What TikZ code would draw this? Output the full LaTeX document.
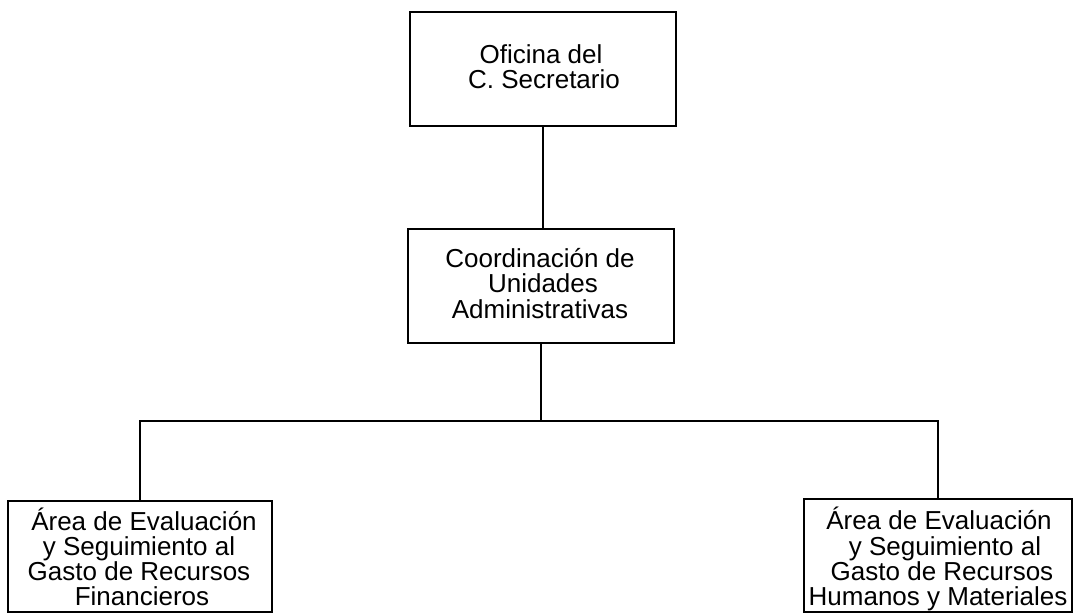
\documentclass[tikz,border=0pt]{standalone}
\usepackage{fontspec}
\setmainfont{Liberation Sans}
\begin{document}
\begin{tikzpicture}[x=1pt,y=-1pt,
  box/.style={draw=black,line width=1.6pt,inner sep=0pt,fill=none},
  txt/.style={anchor=base,inner sep=0pt,font=\fontsize{26}{26}\selectfont},
  wire/.style={draw=black,line width=1.6pt}]
\useasboundingbox (0,0) rectangle (1075,614);
% boxes
\node[box,minimum width=266pt,minimum height=114pt] (top) at (543,69) {};
\node[box,minimum width=266pt,minimum height=114pt] (mid) at (541,286) {};
\node[box,minimum width=264pt,minimum height=111pt] (left) at (140,556.5) {};
\node[box,minimum width=268pt,minimum height=113pt] (right) at (938,555.5) {};
% texts
\node[txt] (t1) at (541,63) {Oficina del};
\node[txt] (t2) at (544,88) {C. Secretario};
\node[txt] (m1) at (540,267) {Coordinación de};
\node[txt] (m2) at (543,292) {Unidades};
\node[txt] (m3) at (540,318) {Administrativas};
\node[txt] (l1) at (144,530) {Área de Evaluación};
\node[txt] (l2) at (139,555) {y Seguimiento al};
\node[txt] (l3) at (139,580) {Gasto de Recursos};
\node[txt] (l4) at (142,605) {Financieros};
\node[txt] (r1) at (939,529) {Área de Evaluación};
\node[txt] (r2) at (945,555) {y Seguimiento al};
\node[txt] (r3) at (942,580) {Gasto de Recursos};
\node[txt] (r4) at (938,605) {Humanos y Materiales};
% connectors
\coordinate (bus) at (541,421);
\draw[wire] (top.south) -- (top.south |- mid.north);
\draw[wire] (mid.south) -- (bus);
\draw[wire] (left.north) |- (bus) -| (right.north);
\end{tikzpicture}
\end{document}
